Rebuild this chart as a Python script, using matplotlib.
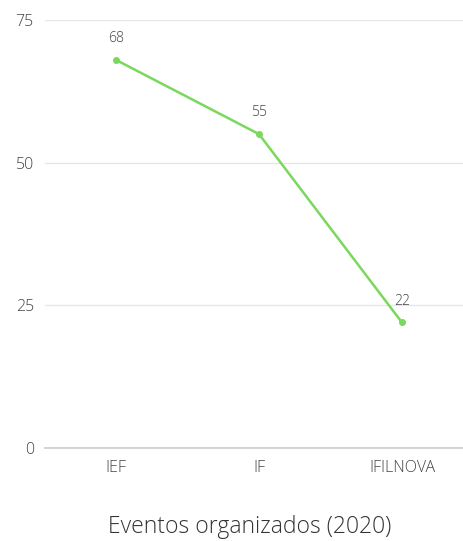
import matplotlib
matplotlib.use("Agg")
import matplotlib.pyplot as plt

categories = ["IEF", "IF", "IFILNOVA"]
values = [68, 55, 22]
yticks = [0, 25, 50, 75]
title = "Eventos organizados (2020)"

plt.rcParams['font.family'] = ['Open Sans', 'DejaVu Sans']

fig = plt.figure(figsize=(4.64, 5.41), dpi=100)
ax = fig.add_axes([45/464, 1-448/541, 1-45/464, (448-20)/541])

x = list(range(len(categories)))
ax.plot(x, values, color='#7ad85c', lw=1.8, marker='o', ms=4, zorder=3, clip_on=False)
for xi, v in zip(x, values):
    ax.annotate(str(v), (xi, v), xytext=(0, 10), textcoords='offset points',
                ha='center', va='bottom', fontsize=10, color='#444444', fontweight='light')

ax.set_ylim(0, 75)
ax.set_xlim(-0.497, 2.434)
ax.set_yticks(yticks)
ax.set_xticks(x)
ax.set_xticklabels(categories)
ax.grid(axis='y', color='#e6e6e6', lw=0.9)
ax.set_axisbelow(True)
for s in ['top', 'right', 'left']:
    ax.spines[s].set_visible(False)
ax.spines['bottom'].set_color('#c8c8c8')
ax.spines['bottom'].set_linewidth(1.1)
ax.tick_params(axis='both', length=0, labelsize=11.5, colors='#444444')
ax.tick_params(axis='y', pad=8)
ax.tick_params(axis='x', pad=8.5)
for lab in ax.get_xticklabels() + ax.get_yticklabels():
    lab.set_fontweight('light')

fig.text(250/464, 1-527/541, title, ha='center', va='center', fontsize=16.5, color='#333333', fontweight='light')

fig.savefig('out.png', dpi=100)
